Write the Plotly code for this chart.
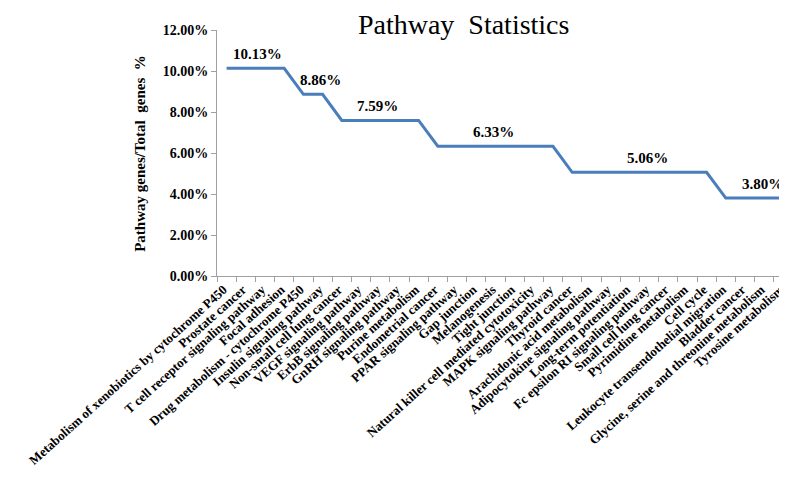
import plotly.graph_objects as go

categories = [
    "Metabolism of xenobiotics by cytochrome P450",
    "Prostate cancer",
    "T cell receptor signaling pathway",
    "Focal adhesion",
    "Drug metabolism - cytochrome P450",
    "Insulin signaling pathway",
    "Non-small cell lung cancer",
    "VEGF signaling pathway",
    "ErbB signaling pathway",
    "GnRH signaling pathway",
    "Purine metabolism",
    "Endometrial cancer",
    "PPAR signaling pathway",
    "Gap junction",
    "Melanogenesis",
    "Tight junction",
    "Natural killer cell mediated cytotoxicity",
    "MAPK signaling pathway",
    "Thyroid cancer",
    "Arachidonic acid metabolism",
    "Adipocytokine signaling pathway",
    "Long-term potentiation",
    "Fc epsilon RI signaling pathway",
    "Small cell lung cancer",
    "Pyrimidine metabolism",
    "Cell cycle",
    "Leukocyte transendothelial migration",
    "Bladder cancer",
    "Glycine, serine and threonine metabolism",
    "Tyrosine metabolism",
]

values = [
    0.1013, 0.1013, 0.1013, 0.1013,
    0.0886, 0.0886,
    0.0759, 0.0759, 0.0759, 0.0759, 0.0759,
    0.0633, 0.0633, 0.0633, 0.0633, 0.0633, 0.0633, 0.0633,
    0.0506, 0.0506, 0.0506, 0.0506, 0.0506, 0.0506, 0.0506, 0.0506,
    0.0380, 0.0380, 0.0380, 0.0380,
]

# data labels: text, value, and position along the category axis (index)
label_texts = ["10.13%", "8.86%", "7.59%", "6.33%", "5.06%", "3.80%"]
label_values = [0.1013, 0.0886, 0.0759, 0.0633, 0.0506, 0.0380]
label_pos = [1.6, 4.9, 7.85, 13.9, 21.9, 27.9]

serif = "Liberation Serif, Times New Roman, serif"

fig = go.Figure()
fig.add_trace(go.Scatter(
    x=categories, y=values, mode="lines",
    line=dict(color="#4a7ebb", width=3),
    showlegend=False, hoverinfo="skip",
))

for t, v, p in zip(label_texts, label_values, label_pos):
    fig.add_annotation(
        x=p, y=v, xref="x", yref="y", text="<b>%s</b>" % t,
        showarrow=False, yanchor="middle", yshift=14,
        font=dict(family=serif, size=15, color="black"),
    )

fig.add_annotation(
    xref="paper", yref="paper", x=-0.134, y=0.5,
    text="<b>Pathway genes/Total  genes  %</b>",
    textangle=-90, showarrow=False, xanchor="center", yanchor="middle",
    font=dict(family=serif, size=15, color="black"),
)

fig.update_layout(
    width=787, height=481,
    margin=dict(l=209, r=2, t=22, b=213),
    paper_bgcolor="white", plot_bgcolor="white",
    title=dict(
        text="Pathway  Statistics",
        x=0.579, xref="container", xanchor="center",
        y=0.967, yref="container", yanchor="middle",
        font=dict(family=serif, size=28, color="black"),
    ),
    xaxis=dict(
        type="category", range=[-0.5, 29.5],
        showline=True, linecolor="#a0a0a0", linewidth=1,
        ticks="outside", tickson="boundaries", ticklen=5, tickcolor="#a0a0a0",
        tickangle=-42, showgrid=False, zeroline=False,
        ticklabelshift=-3,
        tickfont=dict(family=serif, size=13, color="black", weight="bold"),
        automargin=False,
    ),
    yaxis=dict(
        range=[0, 0.12], dtick=0.02, tickformat=".2%",
        showline=True, linecolor="#a0a0a0", linewidth=1,
        ticks="outside", ticklen=5, tickcolor="#a0a0a0",
        showgrid=False, zeroline=False,
        tickfont=dict(family=serif, size=14, color="black", weight="bold"),
        automargin=False,
    ),
)

fig.write_html("out.html")
